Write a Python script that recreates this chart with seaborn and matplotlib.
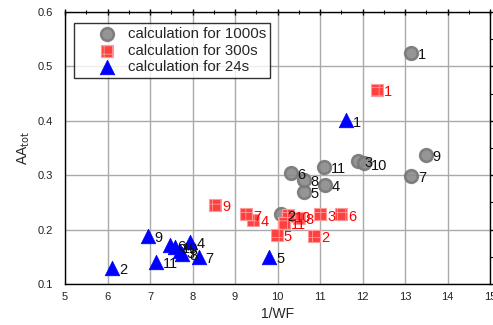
import matplotlib
matplotlib.use("Agg")
import matplotlib.pyplot as plt
import seaborn as sns
import pandas as pd
from matplotlib.ticker import MultipleLocator

# data
labels = ["1", "2", "3", "4", "5", "6", "7", "8", "9", "10", "11"]
x_1000 = [13.14, 10.07, 11.89, 11.12, 10.62, 10.31, 13.15, 10.62, 13.49, 12.04, 11.10]
y_1000 = [0.525, 0.228, 0.326, 0.282, 0.270, 0.305, 0.299, 0.292, 0.338, 0.322, 0.316]
x_300 = [12.33, 10.86, 11.00, 9.43, 9.98, 11.49, 9.26, 10.50, 8.53, 10.25, 10.15]
y_300 = [0.457, 0.189, 0.228, 0.218, 0.190, 0.228, 0.228, 0.222, 0.246, 0.226, 0.212]
x_24 = [11.61, 6.10, 7.70, 7.94, 9.81, 7.47, 8.14, 7.75, 6.94, 7.59, 7.14]
y_24 = [0.401, 0.130, 0.160, 0.178, 0.150, 0.172, 0.150, 0.156, 0.189, 0.168, 0.141]

sns.set_theme(style="white")
plt.rcParams['font.family'] = ['Liberation Sans', 'DejaVu Sans']
plt.rcParams['hatch.linewidth'] = 0.6

fig = plt.figure(figsize=(4.93, 3.25), dpi=100)
ax = fig.add_axes([0.132, 0.126, 0.862, 0.837])

d1000 = pd.DataFrame({"x": x_1000, "y": y_1000, "lab": labels})
d300 = pd.DataFrame({"x": x_300, "y": y_300, "lab": labels})
d24 = pd.DataFrame({"x": x_24, "y": y_24, "lab": labels})

sns.scatterplot(data=d1000, x="x", y="y", ax=ax, marker="o", s=85,
                color="#8a8a8a", edgecolor="#777777", linewidth=1.8, alpha=0.9,
                label="calculation for 1000s", zorder=3)
sns.scatterplot(data=d300, x="x", y="y", ax=ax, marker="s", s=75,
                color="#ff4040", edgecolor="#ff9a9a", linewidth=0.8, hatch="++",
                label="calculation for 300s", zorder=3)
sns.scatterplot(data=d24, x="x", y="y", ax=ax, marker="^", s=110,
                color="#0000ff", edgecolor="#0000ff", linewidth=0.5,
                label="calculation for 24s", zorder=4)

for df, col in [(d1000, "#111111"), (d300, "#ff0000"), (d24, "#111111")]:
    for _, r in df.iterrows():
        ax.annotate(r["lab"], (r["x"], r["y"]), xytext=(5, -4.5),
                    textcoords="offset points", fontsize=10.5, color=col, zorder=5)

ax.set_xlim(5, 15)
ax.set_ylim(0.1, 0.6)
ax.xaxis.set_major_locator(MultipleLocator(1))
ax.xaxis.set_minor_locator(MultipleLocator(0.5))
ax.yaxis.set_major_locator(MultipleLocator(0.1))
ax.yaxis.set_minor_locator(MultipleLocator(0.05))
ax.grid(True, which="major", color="#aaaaaa", linewidth=1.0)
ax.set_axisbelow(True)
for sp in ax.spines.values():
    sp.set_color("black")
    sp.set_linewidth(1.0)
ax.tick_params(which="both", direction="inout", top=True, right=True,
               labelsize=8, colors="black", labelcolor="#222222")
ax.tick_params(which="major", length=5, width=1)
ax.tick_params(which="minor", length=3, width=0.8)
ax.tick_params(axis="y", which="both", direction="out")
ax.tick_params(axis="x", which="both", top=True, direction="inout")

ax.set_xlabel("1/WF", fontsize=10, labelpad=3)
ax.set_ylabel(r"AA$_{\mathrm{tot}}$", fontsize=10, labelpad=4)

leg = ax.legend(loc="upper left", bbox_to_anchor=(0.02, 0.96), fontsize=10.8,
                frameon=True, fancybox=False, edgecolor="black",
                borderpad=0.3, labelspacing=0.15, handletextpad=-0.6,
                handlelength=3.9, borderaxespad=0)
leg.get_frame().set_linewidth(1.0)

fig.savefig("out.png", dpi=100)
